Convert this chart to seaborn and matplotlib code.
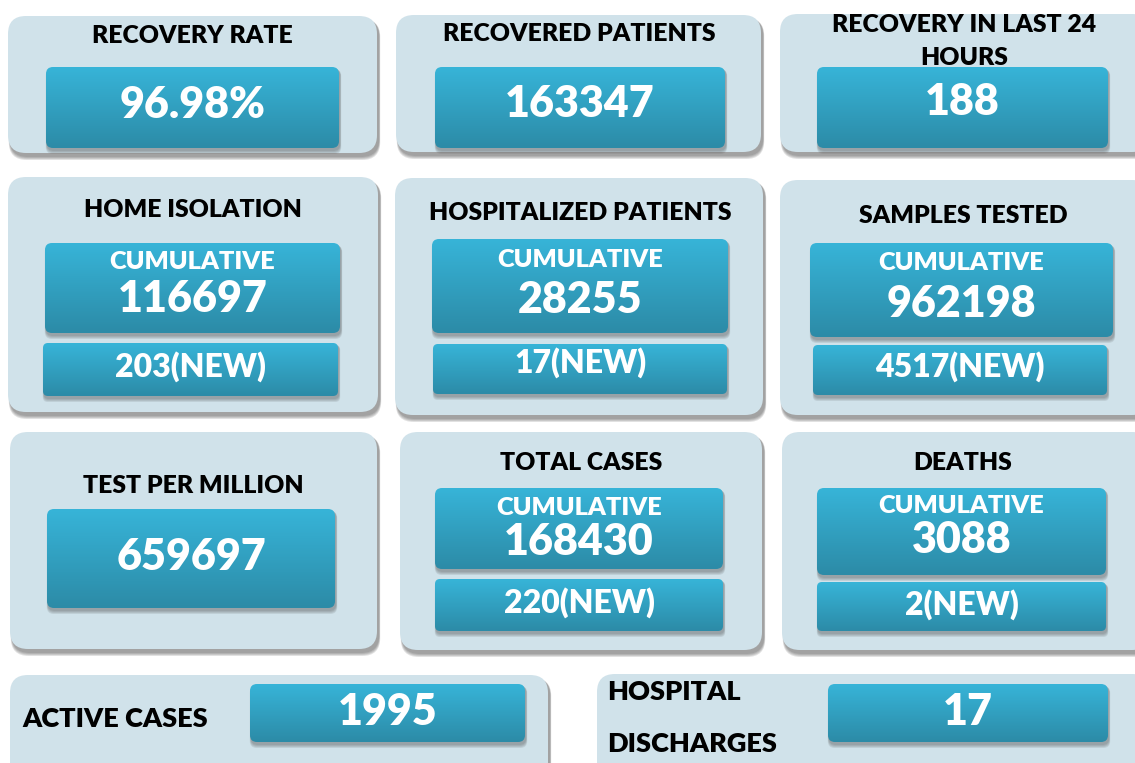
import numpy as np
import matplotlib.pyplot as plt
import seaborn as sns
from matplotlib.patches import FancyBboxPatch

titles = ["RECOVERY RATE", "RECOVERED PATIENTS", "RECOVERY IN LAST 24\nHOURS",
          "HOME ISOLATION", "HOSPITALIZED PATIENTS", "SAMPLES TESTED",
          "TEST PER MILLION", "TOTAL CASES", "DEATHS",
          "ACTIVE CASES", "HOSPITAL\nDISCHARGES"]
values = ["96.98%", "163347", "188",
          "116697", "28255", "962198",
          "659697", "168430", "3088",
          "1995", "17"]
new_values = [None, None, None, 203, 17, 4517, None, 220, 2, None, None]
cum_label = "CUMULATIVE"

# ---- layout (pixels, y grows downwards) ----
outer_boxes = [(8, 16, 377, 153), (396, 15, 761, 152), (780, 14, 1150, 152),
               (8, 177, 378, 412), (395, 178, 763, 415), (780, 180, 1150, 415),
               (10, 432, 377, 649), (400, 432, 762, 650), (782, 432, 1150, 650),
               (10, 675, 548, 780), (597, 674, 1150, 780)]
main_boxes = [(46, 67, 339, 148), (435, 67, 725, 148), (817, 67, 1108, 148),
              (45, 243, 340, 333), (432, 239, 728, 333), (810, 243, 1113, 337),
              (47, 509, 335, 608), (435, 488, 723, 569), (817, 488, 1106, 575),
              (250, 684, 525, 742), (828, 684, 1108, 742)]
new_boxes = [None, None, None,
             (43, 343, 338, 396), (433, 344, 727, 394), (813, 345, 1107, 395),
             None, (435, 579, 723, 631), (817, 582, 1106, 631),
             None, None]
# title anchor (x, baseline, ha, line spacing px, font size)
title_pos = [(192, 43, "center", 0, 17.8), (579, 41, "center", 0, 17.8),
             (964, 32, "center", 33, 17.8),
             (193, 217, "center", 0, 17.8), (580, 220, "center", 0, 17.8),
             (963, 223, "center", 0, 17.8),
             (193, 493, "center", 0, 17.8), (581, 470, "center", 0, 17.8),
             (963, 470, "center", 0, 17.8),
             (22, 727, "left", 0, 19.5), (607, 700, "left", 52, 19.5)]
value_base = [118, 117, 115, 312, 313, 317, 570, 555, 553, 725, 725]
cum_base = [None, None, None, 269, 267, 270, None, 515, 513, None, None]
new_base = [None, None, None, 377, 373, 377, None, 613, 615, None, None]

W, H = 1135, 763
panel_col = "#d0e2ea"
grad_cmap = sns.blend_palette(["#37b4d8", "#2c8ba7"], as_cmap=True)

sns.set_theme(style="white")
plt.rcParams['font.family'] = ['Lato', 'DejaVu Sans']

fig = plt.figure(figsize=(W / 100, H / 100), dpi=100)
ax = fig.add_axes([0, 0, 1, 1])
ax.set_axis_off()


def rbox(b, r, **kw):
    x0, y0, x1, y1 = b
    return FancyBboxPatch((x0, y0), x1 - x0, y1 - y0,
                          boxstyle=f"round,pad=0,rounding_size={r}", **kw)


def shadow(b, r, dx, dy, z, a=0.12):
    x0, y0, x1, y1 = b
    for k in range(4):
        s = 1 + k
        ax.add_patch(rbox((x0 + dx - s * 0.3, y0 + dy, x1 + dx + s * 0.3, y1 + dy + s), r,
                          facecolor="#4a4a4a", edgecolor="none", alpha=a, zorder=z))


def grad_box(b, r, z):
    shadow(b, r, 1, 2, z - 0.5)
    p = rbox(b, r, facecolor="none", edgecolor="none", zorder=z)
    ax.add_patch(p)
    x0, y0, x1, y1 = b
    g = np.linspace(0, 1, 100).reshape(-1, 1)
    im = ax.imshow(g, cmap=grad_cmap, extent=(x0, x1, y1, y0), origin="upper",
                   aspect="auto", zorder=z, interpolation="bilinear")
    im.set_clip_path(p)


for i in range(len(titles)):
    ob = outer_boxes[i]
    shadow(ob, 18, 2, 3, 1, 0.16)
    ax.add_patch(rbox(ob, 18, facecolor=panel_col, edgecolor="none", zorder=2))

    tx, ty, ha, ls, fs = title_pos[i]
    for j, line in enumerate(titles[i].split("\n")):
        ax.text(tx, ty + j * ls, line, ha=ha, va="baseline", fontsize=fs,
                fontweight="heavy", color="black", zorder=5)

    mb = main_boxes[i]
    grad_box(mb, 7, 3)
    cx = (mb[0] + mb[2]) / 2
    ax.text(cx, value_base[i], values[i], ha="center", va="baseline",
            fontsize=31, fontweight="heavy", color="white", zorder=5)

    if new_values[i] is not None:
        ax.text(cx, cum_base[i], cum_label, ha="center", va="baseline",
                fontsize=18.3, fontweight="heavy", color="white", zorder=5)
        nb = new_boxes[i]
        grad_box(nb, 5, 3)
        ax.text((nb[0] + nb[2]) / 2, new_base[i], f"{new_values[i]}(NEW)",
                ha="center", va="baseline", fontsize=23, fontweight="heavy",
                color="white", zorder=5)

ax.set_xlim(0, W)
ax.set_ylim(H, 0)
fig.savefig("out.png", dpi=100, facecolor="white")
